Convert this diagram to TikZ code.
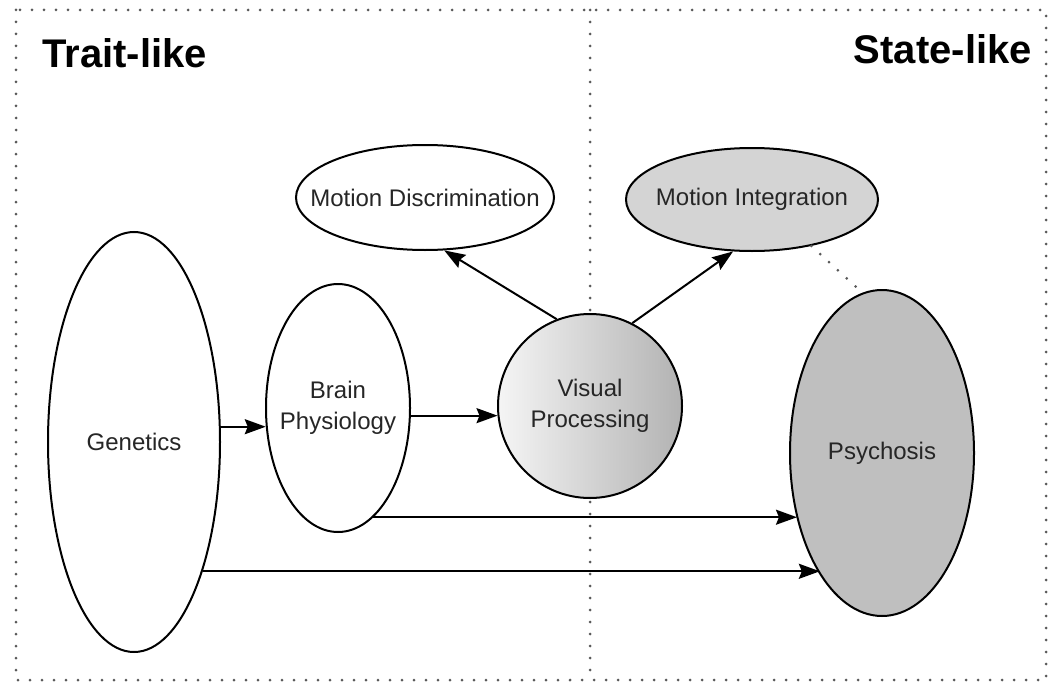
\documentclass[tikz,border=0pt]{standalone}
\usepackage{fontspec}
\setmainfont{Liberation Sans}
\usetikzlibrary{shapes.geometric,arrows.meta}
\begin{document}
\begin{tikzpicture}[x=1pt,y=-1pt,
  blob/.style={ellipse,draw=black,line width=2pt,inner ysep=0pt,align=center,
    font=\fontsize{24}{31}\selectfont,text=black!85},
  arr/.style={line width=2pt,-{Stealth[length=21pt,width=15pt,inset=3pt]}},
  dotline/.style={draw=black!65,line width=3pt,line cap=round,dash pattern=on 0pt off 12pt},
  title/.style={font=\fontsize{40}{44}\selectfont\bfseries,inner sep=0pt}]
\useasboundingbox (0,0) rectangle (1051,682);
\fill[white] (0,0) rectangle (1051,682);
% frame and divider
\draw[dotline] (16,10) rectangle (1046,680);
\draw[dotline] (590,10) -- (590,680);
% titles
\node[title,anchor=base west] (trait) at (42,68) {Trait-like};
\node[title,anchor=base east] (state) at (1032,64) {State-like};
% nodes
\node[blob,inner xsep=0pt,minimum width=172pt,minimum height=420pt] (gen) at (134,442) {Genetics};
\node[blob,inner xsep=-7.5pt,minimum width=144pt,minimum height=248pt] (brain) at (338,408) {Brain\\Physiology};
\node[blob,circle,inner sep=0pt,minimum size=184pt,left color=black!4,right color=black!30] (vp) at (590,406) {Visual\\Processing};
\node[blob,inner xsep=-25pt,minimum width=258pt,minimum height=105pt] (md) at (425,197.5) {Motion Discrimination};
\node[blob,inner xsep=-9pt,fill=black!17,minimum width=252pt,minimum height=103pt] (mi) at (752,199.5) {Motion Integration};
\node[blob,inner xsep=0pt,fill=black!25,minimum width=184pt,minimum height=326pt] (psy) at (882,453) {Psychosis};
% connectors
\draw[arr] (gen.10.6) -- (gen.10.6 -| brain.194.2);
\draw[arr] (brain.-6.35) -- (brain.-6.35 -| vp.186.2);
\draw[arr] (brain.-72.5) -- (brain.-72.5 -| psy.-142.35);
\draw[arr] (gen.-62.55) -- (gen.-62.55 -| psy.-117.24);
\draw[arr] (vp.111) -- (md.-70.9);
\draw[arr] (vp.63.4) -- (mi.-110);
\draw[dotline] (mi.-38) -- (psy.97);
\end{tikzpicture}
\end{document}
